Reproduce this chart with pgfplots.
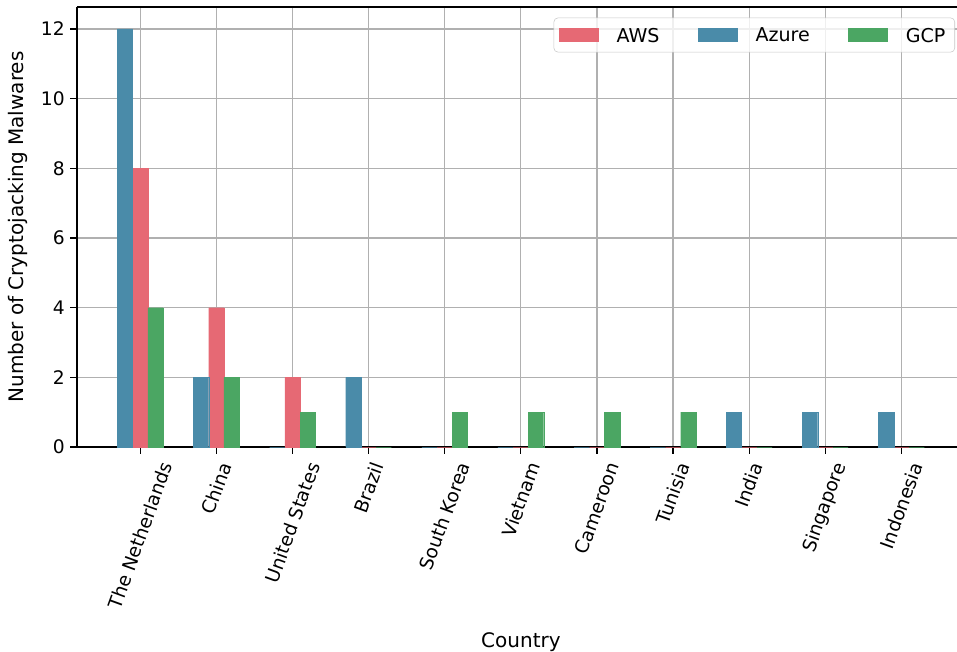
\documentclass[border=0pt]{standalone}
\usepackage{fontspec}
\setmainfont{DejaVu Sans}
\usepackage{pgfplots}
\pgfplotsset{compat=1.18}
\definecolor{cAWS}{HTML}{E66974}
\definecolor{cAzure}{HTML}{4A8BA9}
\definecolor{cGCP}{HTML}{4BA663}
\definecolor{gridc}{HTML}{B0B0B0}
\newcommand\R[1]{\rotatebox{70}{#1}}
\begin{document}
\begin{tikzpicture}
\begin{axis}[
  scale only axis,
  width=660pt, height=330pt,
  xmin=-0.83, xmax=10.73,
  ymin=0, ymax=12.63,
  axis x line=box, axis y line=left,
  x axis line style={-, line width=0.85pt},
  y axis line style={-, line width=0.85pt},
  xtick pos=bottom, ytick pos=left,
  tick align=outside,
  major tick length=5pt,
  every tick/.style={black, line width=0.85pt},
  xtick={0,1,2,3,4,5,6,7,8,9,10},
  xticklabels={\R{The Netherlands},\R{China},\R{United States},\R{Brazil},\R{South Korea},\R{Vietnam},\R{Cameroon},\R{Tunisia},\R{India},\R{Singapore},\R{Indonesia}},
  xticklabel style={anchor=north, inner sep=2pt, yshift=-3pt},
  ytick={0,2,4,6,8,10,12},
  yticklabel style={anchor=east, inner sep=2pt, xshift=-2pt},
  /pgf/number format/assume math mode=true,
  tick label style={font=\fontsize{14}{16}\selectfont},
  grid=major,
  grid style={color=gridc, line width=0.9pt},
  ybar,
  bar width=0.2,
  xlabel={Country},
  ylabel={Number of Cryptojacking Malwares},
  label style={font=\fontsize{15}{18}\selectfont},
  xlabel style={at={(axis description cs:0.5045,0)}, anchor=base, yshift=-150pt},
  ylabel style={at={(axis description cs:-0.0676,0.5)}, anchor=center},
  legend columns=3,
  legend image code/.code={\fill[#1,draw=none,sharp corners,fill opacity=1] (0pt,-4.9pt) rectangle (29.5pt,4.9pt);},
  legend style={at={(rel axis cs:1,1)}, anchor=north east, xshift=-1.5pt, yshift=-8pt,
    draw=gridc!70, rounded corners=3pt, fill=white, fill opacity=0.8, text opacity=1,
    font=\fontsize{14.3}{17}\selectfont, inner xsep=4pt, inner ysep=4.5pt,
    nodes={inner sep=3pt, text depth=0pt, anchor=west},
    /tikz/every odd column/.append style={column sep=10.5pt},
    /tikz/every even column/.append style={column sep=26pt}},
]
\addplot[fill=cAWS, draw=cAWS, line width=0.2pt, bar shift=0] coordinates {(0,8) (1,4) (2,2) (3,0) (4,0) (5,0) (6,0) (7,0) (8,0) (9,0) (10,0)};
\addplot[fill=cAzure, draw=cAzure, line width=0.2pt, bar shift=-0.2] coordinates {(0,12) (1,2) (2,0) (3,2) (4,0) (5,0) (6,0) (7,0) (8,1) (9,1) (10,1)};
\addplot[fill=cGCP, draw=cGCP, line width=0.2pt, bar shift=0.2] coordinates {(0,4) (1,2) (2,1) (3,0) (4,1) (5,1) (6,1) (7,1) (8,0) (9,0) (10,0)};
\legend{AWS, Azure, GCP}
\coordinate (ll) at (rel axis cs:0,0);
\coordinate (ur) at (rel axis cs:1,1);
\end{axis}
\pgfresetboundingbox
\path ([xshift=-57.75pt,yshift=-153pt]ll) rectangle ([yshift=5.25pt]ur);
\end{tikzpicture}
\end{document}
